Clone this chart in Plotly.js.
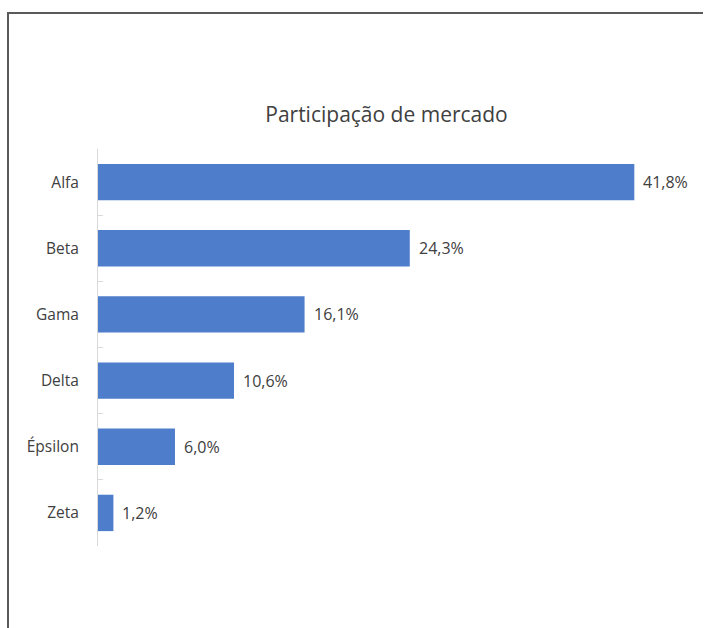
<!DOCTYPE html>
<html>
<head>
<meta charset="utf-8">
<script src="https://cdn.plot.ly/plotly-3.0.1.min.js"></script>
<style>
html,body{margin:0;padding:0;background:#fff;overflow:hidden;}
#chart{width:704px;height:628px;}
</style>
</head>
<body>
<div id="chart"></div>
<script>
const categories = ["Alfa", "Beta", "Gama", "Delta", "Épsilon", "Zeta"];
const shares = [41.8, 24.3, 16.1, 10.6, 6.0, 1.2];
const shareLabels = ["41,8%", "24,3%", "16,1%", "10,6%", "6,0%", "1,2%"];
const chartTitle = "Participação de mercado";

const FONT = "'Open Sans', sans-serif";

const trace = {
  type: "bar",
  orientation: "h",
  y: categories,
  x: shares,
  marker: { color: "#4e7dcb", line: { width: 0 } },
  hoverinfo: "skip",
  showlegend: false
};

const annotations = categories.map((c, i) => ({
  x: shares[i], y: c, xref: "x", yref: "y",
  text: shareLabels[i],
  showarrow: false,
  xanchor: "left", yanchor: "middle",
  xshift: 7,
  font: { family: FONT, size: 16, color: "#404040" }
}));

const L = 98, T = 149, W = 592, H = 397;
const px = v => (v - L) / W;
const py = v => (T + H - v) / H;

const layout = {
  width: 704, height: 628,
  paper_bgcolor: "#ffffff", plot_bgcolor: "#ffffff",
  margin: { l: 98, r: 14, t: 149, b: 82, pad: 0 },
  bargap: 0.45,
  separators: ",.",
  title: {
    text: chartTitle,
    font: { family: FONT, size: 21, color: "#404040" },
    xref: "container", x: 0.549, xanchor: "center",
    yref: "container", y: 1 - 115 / 628, yanchor: "middle"
  },
  xaxis: {
    range: [0, 46.14],
    showgrid: false, zeroline: false, showline: false,
    showticklabels: false, ticks: "", fixedrange: true
  },
  yaxis: {
    type: "category",
    autorange: "reversed",
    showgrid: false, zeroline: false,
    showline: true, linecolor: "#d9d9d9", linewidth: 1,
    ticks: "inside", ticklen: 5, tickcolor: "#d9d9d9", tickwidth: 1,
    tickson: "boundaries",
    ticklabelstandoff: 15,
    tickfont: { family: FONT, size: 15.5, color: "#404040" },
    fixedrange: true
  },
  shapes: [{
    type: "path", xref: "paper", yref: "paper", layer: "above",
    path: "M " + px(8) + "," + py(700) + " L " + px(8) + "," + py(13) + " L " + px(703) + "," + py(13),
    line: { color: "#5a5a5a", width: 2 }
  }],
  annotations: annotations
};

Plotly.newPlot("chart", [trace], layout, { displayModeBar: false, staticPlot: true });
</script>
</body>
</html>
